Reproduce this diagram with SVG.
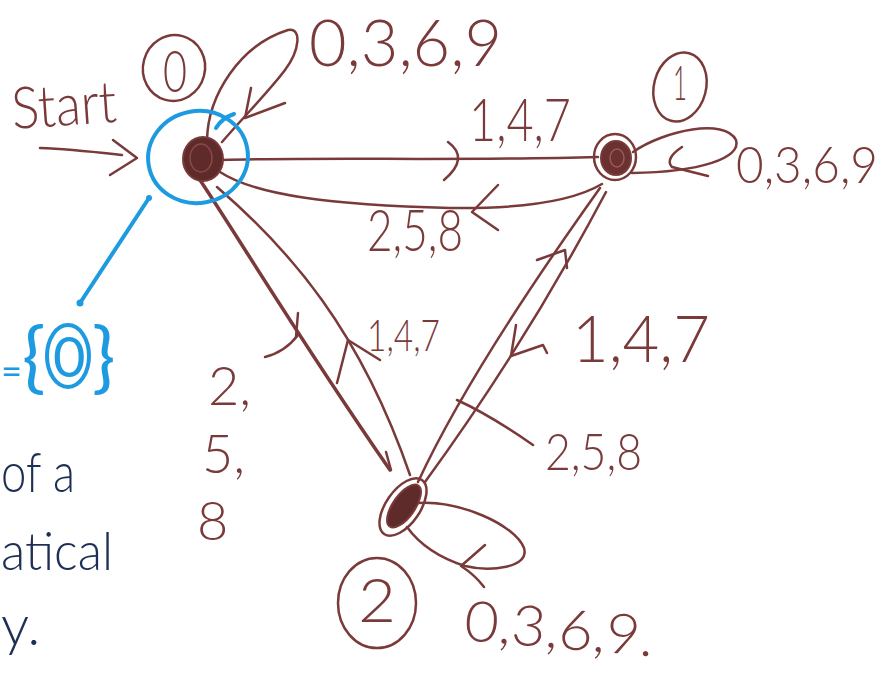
<svg xmlns="http://www.w3.org/2000/svg" width="890" height="673" viewBox="0 0 890 673">
<style>
.ink{fill:none;stroke:#7a3a3a;stroke-width:2.5;stroke-linecap:round;stroke-linejoin:round}
.thick{stroke-width:3.5}
.lbl{font-family:"Lato","Liberation Sans",Arial,sans-serif;font-weight:300;fill:#7a3a3a}
.blue{fill:none;stroke:#1e9be0;stroke-width:4;stroke-linecap:round}
.btxt{font-family:"Lato","Liberation Sans",Arial,sans-serif;font-weight:400;fill:#1e9be0}
.ntxt{font-family:"Lato","Liberation Sans",Arial,sans-serif;font-weight:300;fill:#1e2f55}
.blob{fill:#5e2a2a;stroke:#7a3a3a;stroke-width:2}
</style>
<rect width="890" height="673" fill="#ffffff"/>

<g id="connectors">
  <!-- start arrow -->
  <path class="ink" d="M40,148 C70,149 95,152 122,155"/>
  <path class="ink" d="M113,140 L137,158 L110,175"/>
  <!-- self loop 0 -->
  <path class="ink" d="M207,140 C208,95 240,45 288,30 C302,27 300,50 285,70 C270,90 250,110 222,142"/>
  <path class="ink" d="M251,88 L245,118 L285,103"/>
  <!-- 0 -> 1 -->
  <path class="ink" d="M222,160 C320,157 470,161 598,157"/>
  <path class="ink" d="M448,142 Q470,158 444,180"/>
  <!-- 1 -> 0 -->
  <path class="ink" d="M220,172 C255,195 330,205 450,208 C525,209 575,200 602,184"/>
  <path class="ink" d="M498,185 L472,212 L498,230"/>
  <!-- self loop 1 -->
  <path class="ink" d="M633,152 C665,130 725,118 736,140 C742,158 700,172 632,173"/>
  <path class="ink" d="M682,147 C670,155 667,162 672,167 L708,176"/>
  <!-- 0 -> 2 (thick) -->
  <path class="ink thick" d="M200,180 C240,240 300,340 390,470"/>
  <path class="ink" d="M386,452 L391,470"/>
  <path class="ink" d="M265,357 Q285,352 298,335"/>
  <path class="ink" d="M298,313 L296,337"/>
  <!-- 2 -> 0 -->
  <path class="ink" d="M217,187 C290,250 360,330 410,475"/>
  <path class="ink" d="M337,383 L348,340 L380,360"/>
  <!-- 2 -> 1 (left line) -->
  <path class="ink" d="M418,482 Q470,370 600,188"/>
  <path class="ink" d="M537,260 L565,250 L567,268"/>
  <path class="ink" d="M457,400 Q490,415 533,445"/>
  <!-- 1 -> 2 (right line) -->
  <path class="ink" d="M425,482 Q525,345 606,192"/>
  <path class="ink" d="M516,325 L511,356 L543,345 L547,353"/>
  <!-- self loop 2 -->
  <path class="ink" d="M417,503 C460,500 515,525 524,548 C530,568 490,572 465,566 C440,558 420,545 407,527"/>
  <path class="ink" d="M485,545 L461,566 Q475,575 484,587"/>
</g>

<g id="state0">
  <ellipse class="blob" cx="203" cy="159" rx="20" ry="22"/>
  <ellipse cx="201" cy="158" rx="11" ry="14" fill="none" stroke="#8a4a4a" stroke-width="1.5"/>
</g>
<g id="state0-label">
  <ellipse class="ink" cx="174" cy="68" rx="31" ry="33" transform="rotate(15 174 68)"/>
  <text class="lbl" x="175" y="92" font-size="58" text-anchor="middle" textLength="24" lengthAdjust="spacingAndGlyphs">0</text>
</g>

<g id="state1">
  <ellipse cx="615" cy="157" rx="21" ry="23" fill="none" stroke="#7a3a3a" stroke-width="2.5"/>
  <ellipse cx="616" cy="158" rx="15" ry="17" fill="#6b3030" stroke="#7a3a3a" stroke-width="2"/>
  <ellipse cx="617" cy="158" rx="7" ry="9" fill="none" stroke="#9a5a5a" stroke-width="1.5"/>
</g>
<g id="state1-label">
  <ellipse class="ink" cx="680" cy="87" rx="26" ry="35" transform="rotate(15 680 87)"/>
  <text class="lbl" x="680" y="100" font-size="48" text-anchor="middle" textLength="14" lengthAdjust="spacingAndGlyphs">1</text>
</g>

<g id="state2">
  <ellipse cx="403" cy="507" rx="17" ry="33" transform="rotate(35 403 507)" fill="none" stroke="#7a3a3a" stroke-width="2.5"/>
  <ellipse cx="404" cy="506" rx="11" ry="25" transform="rotate(35 404 506)" fill="#5e2a2a" stroke="#7a3a3a" stroke-width="2"/>
</g>
<g id="state2-label">
  <ellipse class="ink" cx="377" cy="603" rx="39" ry="45"/>
  <text class="lbl" x="377" y="622" font-size="62" text-anchor="middle" textLength="38" lengthAdjust="spacingAndGlyphs">2</text>
</g>

<g id="labels">
  <text class="lbl" x="13" y="129" font-size="58" textLength="105" lengthAdjust="spacingAndGlyphs" transform="rotate(-4 13 129)">Start</text>
  <text class="lbl" x="309" y="66" font-size="66" textLength="193" lengthAdjust="spacingAndGlyphs">0,3,6,9</text>
  <text class="lbl" x="469" y="141" font-size="60" textLength="102" lengthAdjust="spacingAndGlyphs">1,4,7</text>
  <text class="lbl" x="367" y="251" font-size="58" textLength="96" lengthAdjust="spacingAndGlyphs">2,5,8</text>
  <text class="lbl" x="736" y="183" font-size="52" textLength="142" lengthAdjust="spacingAndGlyphs">0,3,6,9</text>
  <text class="lbl" x="572" y="362" font-size="66" textLength="138" lengthAdjust="spacingAndGlyphs">1,4,7</text>
  <text class="lbl" x="545" y="470" font-size="52" textLength="97" lengthAdjust="spacingAndGlyphs">2,5,8</text>
  <text class="lbl" x="463" y="640" font-size="56" textLength="190" lengthAdjust="spacingAndGlyphs" transform="rotate(5 463 640)">0,3,6,9.</text>
  <text class="lbl" x="367" y="351" font-size="44" textLength="73" lengthAdjust="spacingAndGlyphs">1,4,7</text>
  <text class="lbl" font-size="54"><tspan x="208" y="405">2,</tspan><tspan x="202" y="473">5,</tspan><tspan x="197" y="540">8</tspan></text>
</g>

<g id="annotation">
  <ellipse class="blue" cx="198" cy="157" rx="50" ry="46" transform="rotate(-10 198 157)"/>
  <path class="blue" d="M216,128 Q222,118 234,114"/>
  <path class="blue" d="M149,198 L80,303" stroke-width="3"/>
  <circle cx="80" cy="303" r="3.5" fill="#1e9be0"/>
  <circle cx="149" cy="198" r="3" fill="#1e9be0"/>
  <ellipse class="blue" cx="68" cy="356" rx="21" ry="31"/>
  <text class="btxt" y="384" font-size="78"><tspan x="1" font-size="36">=</tspan><tspan x="22">{</tspan><tspan x="53" font-size="56" y="377">0</tspan><tspan x="92" y="384">}</tspan></text>
  <text class="ntxt" x="1" y="492" font-size="56" textLength="74" lengthAdjust="spacingAndGlyphs">of a</text>
  <text class="ntxt" x="1" y="570" font-size="54" textLength="112" lengthAdjust="spacingAndGlyphs">atical</text>
  <text class="ntxt" x="1" y="645" font-size="56">y.</text>
</g>
</svg>
